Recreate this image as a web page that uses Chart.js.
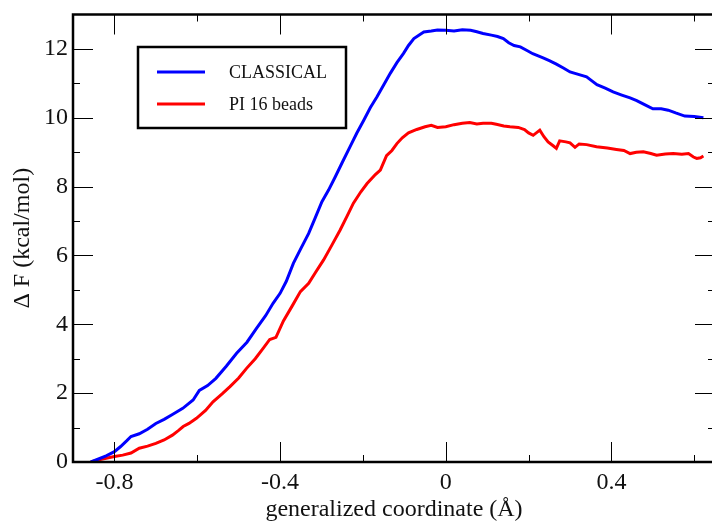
<!DOCTYPE html>
<html>
<head>
<meta charset="utf-8">
<script src="https://cdn.jsdelivr.net/npm/chart.js@4/dist/chart.umd.min.js"></script>
<style>
html, body { margin: 0; padding: 0; background: #fff; overflow: hidden; }
</style>
</head>
<body>
<canvas id="chart" width="715" height="525"></canvas>
<script>
// free energy profiles
const classicalX = [-0.857, -0.84, -0.82, -0.80, -0.785, -0.77, -0.76, -0.74, -0.72, -0.70, -0.68, -0.66, -0.635, -0.61, -0.595, -0.575, -0.555, -0.53, -0.505, -0.48, -0.457, -0.435, -0.417, -0.40, -0.385, -0.368, -0.35, -0.331, -0.315, -0.299, -0.283, -0.267, -0.25, -0.231, -0.215, -0.198, -0.182, -0.166, -0.15, -0.134, -0.118, -0.102, -0.09, -0.077, -0.065, -0.053, -0.035, -0.02, 0.0, 0.02, 0.04, 0.06, 0.075, 0.09, 0.11, 0.125, 0.139, 0.152, 0.165, 0.18, 0.195, 0.21, 0.235, 0.25, 0.267, 0.285, 0.30, 0.32, 0.34, 0.352, 0.365, 0.385, 0.404, 0.425, 0.445, 0.461, 0.48, 0.50, 0.52, 0.537, 0.555, 0.577, 0.60, 0.622];
const classicalY = [0, 0.08, 0.18, 0.30, 0.45, 0.62, 0.74, 0.82, 0.95, 1.12, 1.24, 1.38, 1.56, 1.80, 2.08, 2.22, 2.43, 2.78, 3.16, 3.48, 3.88, 4.25, 4.61, 4.90, 5.25, 5.77, 6.20, 6.64, 7.10, 7.56, 7.90, 8.28, 8.70, 9.16, 9.55, 9.93, 10.30, 10.61, 10.95, 11.29, 11.60, 11.87, 12.10, 12.30, 12.40, 12.49, 12.52, 12.55, 12.54, 12.52, 12.56, 12.54, 12.50, 12.45, 12.40, 12.36, 12.30, 12.18, 12.10, 12.06, 11.96, 11.86, 11.74, 11.66, 11.56, 11.44, 11.33, 11.26, 11.19, 11.08, 10.96, 10.86, 10.75, 10.66, 10.58, 10.50, 10.38, 10.26, 10.26, 10.22, 10.14, 10.05, 10.04, 10.00];

const piX = [-0.857, -0.84, -0.82, -0.80, -0.78, -0.76, -0.74, -0.72, -0.70, -0.68, -0.66, -0.645, -0.634, -0.62, -0.602, -0.58, -0.562, -0.54, -0.521, -0.50, -0.481, -0.46, -0.441, -0.425, -0.41, -0.392, -0.37, -0.351, -0.331, -0.315, -0.295, -0.275, -0.255, -0.238, -0.223, -0.205, -0.19, -0.17, -0.158, -0.143, -0.13, -0.118, -0.105, -0.09, -0.07, -0.05, -0.035, -0.02, 0.0, 0.02, 0.04, 0.058, 0.075, 0.09, 0.11, 0.122, 0.14, 0.155, 0.175, 0.19, 0.2, 0.211, 0.227, 0.237, 0.247, 0.26, 0.267, 0.275, 0.29, 0.30, 0.312, 0.322, 0.34, 0.364, 0.39, 0.412, 0.43, 0.445, 0.46, 0.477, 0.495, 0.509, 0.53, 0.549, 0.57, 0.586, 0.598, 0.606, 0.615, 0.622];
const piY = [0, 0.06, 0.11, 0.16, 0.20, 0.26, 0.40, 0.46, 0.54, 0.64, 0.78, 0.92, 1.03, 1.12, 1.27, 1.50, 1.75, 1.98, 2.19, 2.44, 2.72, 3.00, 3.30, 3.56, 3.62, 4.10, 4.55, 4.95, 5.19, 5.50, 5.87, 6.30, 6.74, 7.15, 7.52, 7.85, 8.09, 8.35, 8.48, 8.90, 9.05, 9.25, 9.42, 9.56, 9.66, 9.74, 9.78, 9.72, 9.74, 9.80, 9.84, 9.86, 9.82, 9.84, 9.84, 9.81, 9.76, 9.74, 9.72, 9.66, 9.56, 9.49, 9.64, 9.45, 9.30, 9.18, 9.11, 9.33, 9.30, 9.27, 9.14, 9.24, 9.22, 9.16, 9.12, 9.08, 9.05, 8.96, 9.00, 9.01, 8.96, 8.91, 8.95, 8.96, 8.94, 8.96, 8.86, 8.82, 8.84, 8.89];

const seriesNames = ["CLASSICAL", "PI 16 beads"];
const xMajorTicks = [-0.8, -0.4, 0, 0.4];
const xMinorTicks = [-0.6, -0.2, 0.2, 0.6];
const yMajorTicks = [0, 2, 4, 6, 8, 10, 12];
const yMinorTicks = [1, 3, 5, 7, 9, 11];

const serif = '"Liberation Serif", "DejaVu Serif", serif';

function toPoints(xs, ys) {
  return xs.map((x, i) => ({ x: x, y: ys[i] }));
}

// inward ticks + box frame, xmgrace style
const framePlugin = {
  id: 'frame',
  afterDatasetsDraw(chart) {
    const ctx = chart.ctx;
    const a = chart.chartArea;
    const x = chart.scales.x, y = chart.scales.y;
    ctx.save();
    ctx.strokeStyle = '#000';
    ctx.lineWidth = 1;
    ctx.beginPath();
    function xTick(v, len) {
      const px = Math.round(x.getPixelForValue(v)) + 0.5;
      ctx.moveTo(px, a.bottom); ctx.lineTo(px, a.bottom - len);
      ctx.moveTo(px, a.top); ctx.lineTo(px, a.top + len);
    }
    function yTick(v, len) {
      const py = Math.round(y.getPixelForValue(v)) + 0.5;
      ctx.moveTo(a.left, py); ctx.lineTo(a.left + len, py);
      ctx.moveTo(a.right, py); ctx.lineTo(a.right - len, py);
    }
    xMajorTicks.forEach(v => xTick(v, 20));
    xMinorTicks.forEach(v => xTick(v, 7));
    yMajorTicks.forEach(v => yTick(v, 20));
    yMinorTicks.forEach(v => yTick(v, 7));
    ctx.stroke();
    ctx.lineWidth = 2.5;
    ctx.strokeRect(a.left, a.top, a.right - a.left, a.bottom - a.top);
    ctx.restore();
  }
};

// boxed legend in the upper left
const legendBox = {
  id: 'legendBox',
  afterDraw(chart) {
    const ctx = chart.ctx;
    ctx.save();
    ctx.strokeStyle = '#000';
    ctx.lineWidth = 2.5;
    ctx.strokeRect(138, 47, 208, 81);
    chart.data.datasets.forEach((ds, i) => {
      const yy = 72 + i * 32;
      ctx.strokeStyle = ds.borderColor;
      ctx.lineWidth = 3;
      ctx.beginPath();
      ctx.moveTo(157, yy);
      ctx.lineTo(205, yy);
      ctx.stroke();
      ctx.fillStyle = '#111';
      ctx.font = '18px ' + serif;
      ctx.textBaseline = 'middle';
      ctx.fillText(ds.label, 229, yy + 1);
    });
    ctx.restore();
  }
};

new Chart(document.getElementById("chart"), {
  type: 'scatter',
  data: {
    datasets: [
      {
        label: seriesNames[0],
        data: toPoints(classicalX, classicalY),
        showLine: true,
        borderColor: '#0000ff',
        borderWidth: 3,
        pointRadius: 0,
        tension: 0
      },
      {
        label: seriesNames[1],
        data: toPoints(piX, piY),
        showLine: true,
        borderColor: '#ff0000',
        borderWidth: 3,
        pointRadius: 0,
        tension: 0
      }
    ]
  },
  options: {
    responsive: false,
    animation: false,
    layout: { padding: { top: 14.5, right: 0, left: 0, bottom: 0 } },
    scales: {
      x: {
        type: 'linear',
        min: -0.9,
        max: 0.65,
        afterBuildTicks: s => { s.ticks = xMajorTicks.map(v => ({ value: v })); },
        afterFit: s => { s.height = 63; s.paddingLeft = 0; s.paddingRight = 0; },
        grid: { display: false, drawTicks: false },
        border: { display: false },
        ticks: {
          padding: 6,
          color: '#111',
          font: { family: serif, size: 24 },
          callback: v => String(Math.round(v * 10) / 10)
        },
        title: {
          display: true,
          text: 'generalized coordinate (Å)',
          color: '#111',
          font: { family: serif, size: 24 },
          padding: { top: 0, bottom: 1 }
        }
      },
      y: {
        min: 0,
        max: 13,
        afterBuildTicks: s => { s.ticks = yMajorTicks.map(v => ({ value: v })); },
        afterFit: s => { s.width = 73; s.paddingTop = 0; s.paddingBottom = 0; },
        grid: { display: false, drawTicks: false },
        border: { display: false },
        ticks: {
          padding: 5,
          color: '#111',
          font: { family: serif, size: 24 },
          callback: v => String(v)
        },
        title: {
          display: true,
          text: 'Δ F (kcal/mol)',
          color: '#111',
          font: { family: serif, size: 24 },
          padding: { top: 8, bottom: 0 }
        }
      }
    },
    plugins: {
      legend: { display: false },
      tooltip: { enabled: false }
    }
  },
  plugins: [framePlugin, legendBox]
});
</script>
</body>
</html>
